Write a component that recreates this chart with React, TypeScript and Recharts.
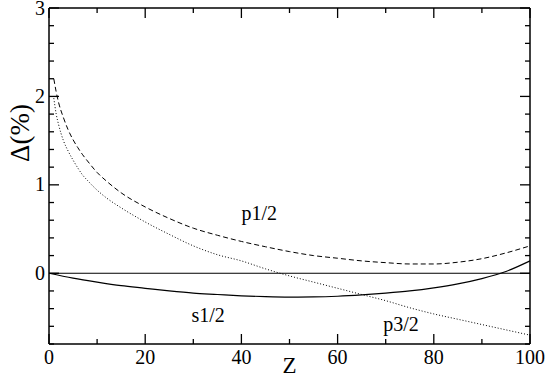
import { LineChart, Line, XAxis, YAxis, ReferenceLine, ReferenceDot } from 'recharts';

// Z values and relative differences (%)
const Z_S = [0, 5, 10, 15, 20, 25, 30, 35, 40, 45, 50, 55, 60, 65, 70, 75, 80, 85, 90, 95, 100];
const S12 = [0, -0.055, -0.1, -0.14, -0.17, -0.2, -0.225, -0.24, -0.255, -0.265, -0.27, -0.268, -0.26, -0.245, -0.225, -0.2, -0.165, -0.12, -0.06, 0.02, 0.14];

const Z_P = [1, 1.5, 2, 3, 4, 5, 6, 7, 8, 10, 12, 15, 20, 25, 30, 35, 40, 45, 50, 55, 60, 65, 70, 75, 80, 85, 90, 95, 100];
const P12 = [2.2, 2.05, 1.93, 1.76, 1.62, 1.51, 1.42, 1.34, 1.27, 1.14, 1.04, 0.91, 0.75, 0.62, 0.51, 0.43, 0.36, 0.3, 0.245, 0.2, 0.17, 0.14, 0.12, 0.105, 0.105, 0.125, 0.165, 0.23, 0.31];
const P32 = [1.98, 1.8, 1.68, 1.5, 1.38, 1.28, 1.19, 1.11, 1.05, 0.94, 0.85, 0.74, 0.58, 0.44, 0.31, 0.21, 0.14, 0.05, -0.03, -0.1, -0.17, -0.24, -0.31, -0.39, -0.46, -0.52, -0.58, -0.64, -0.7];

const X_TICKS = [0, 10, 20, 30, 40, 50, 60, 70, 80, 90, 100];
const Y_TICKS = [-0.8, -0.6, -0.4, -0.2, 0, 0.2, 0.4, 0.6, 0.8, 1, 1.2, 1.4, 1.6, 1.8, 2, 2.2, 2.4, 2.6, 2.8, 3];

const LABELS = [
  { text: 'p1/2', z: 43.7, v: 0.68 },
  { text: 's1/2', z: 33.1, v: -0.48 },
  { text: 'p3/2', z: 73.2, v: -0.585 },
];

const W = 547;
const H = 383;
const MARGIN = { top: 8, right: 17, bottom: 0, left: 0 };
const Y_AXIS_W = 49;
const X_AXIS_H = 39;
const PLOT_TOP = MARGIN.top;
const PLOT_RIGHT = W - MARGIN.right;
const FONT = 'Liberation Serif, DejaVu Serif, serif';
const TXT = { fontFamily: FONT };

const sData = Z_S.map((z, i) => ({ z, v: S12[i] }));
const p12Data = Z_P.map((z, i) => ({ z, v: P12[i] }));
const p32Data = Z_P.map((z, i) => ({ z, v: P32[i] }));

function XTick(props: any) {
  const { x, y, payload } = props;
  const v = payload.value;
  const major = v % 20 === 0;
  const len = major ? 10 : 5;
  return (
    <g>
      <line x1={x} y1={y} x2={x} y2={y - len} stroke="#000" strokeWidth={1.3} />
      <line x1={x} y1={PLOT_TOP} x2={x} y2={PLOT_TOP + len} stroke="#000" strokeWidth={1.3} />
      {major && (
        <text x={x} y={y + 20} textAnchor="middle" fontSize={20} style={TXT} fill="#000">
          {v}
        </text>
      )}
    </g>
  );
}

function YTick(props: any) {
  const { x, y, payload } = props;
  const v = payload.value;
  const major = Number.isInteger(v);
  const len = major ? 10 : 5;
  return (
    <g>
      <line x1={x} y1={y} x2={x + len} y2={y} stroke="#000" strokeWidth={1.3} />
      <line x1={PLOT_RIGHT} y1={y} x2={PLOT_RIGHT - len} y2={y} stroke="#000" strokeWidth={1.3} />
      {major && (
        <text x={x - 4} y={y + 6.5} textAnchor="end" fontSize={20} style={TXT} fill="#000">
          {v}
        </text>
      )}
    </g>
  );
}

function YLabel(props: any) {
  const { viewBox } = props;
  const cx = viewBox.x + 20;
  const cy = viewBox.y + viewBox.height / 2 - 43;
  return (
    <text
      x={cx}
      y={cy}
      transform={`rotate(-90 ${cx} ${cy})`}
      textAnchor="middle"
      dominantBaseline="central"
      fontSize={27}
      style={TXT}
      fill="#000"
    >
      Δ(%)
    </text>
  );
}

function XLabel(props: any) {
  const { viewBox } = props;
  return (
    <text x={viewBox.x + viewBox.width / 2} y={viewBox.y + 29} textAnchor="middle" fontSize={23} style={TXT} fill="#000">
      Z
    </text>
  );
}

function NoteLabel(props: any) {
  const { viewBox, value } = props;
  return (
    <text x={viewBox.x} y={viewBox.y + 6.5} textAnchor="middle" fontSize={20} style={TXT} fill="#000">
      {value}
    </text>
  );
}

export default function App() {
  return (
    <div style={{ position: 'absolute', left: 0, top: 0, width: W, height: H, background: '#fff', fontFamily: FONT }}>
      <LineChart width={W} height={H} margin={MARGIN}>
        <XAxis
          dataKey="z"
          type="number"
          domain={[0, 100]}
          ticks={X_TICKS}
          interval={0}
          height={X_AXIS_H}
          tickSize={0}
          tickMargin={0}
          tickLine={false}
          tick={<XTick />}
          axisLine={{ stroke: '#000', strokeWidth: 1.5 }}
          label={<XLabel />}
        />
        <YAxis
          type="number"
          domain={[-0.8, 3]}
          ticks={Y_TICKS}
          interval={0}
          width={Y_AXIS_W}
          tickSize={0}
          tickMargin={0}
          tickLine={false}
          tick={<YTick />}
          axisLine={{ stroke: '#000', strokeWidth: 1.5 }}
          label={<YLabel />}
        />
        <ReferenceLine y={3} stroke="#000" strokeWidth={1.5} />
        <ReferenceLine x={100} stroke="#000" strokeWidth={1.5} />
        <ReferenceLine y={0} stroke="#000" strokeWidth={1} />
        <Line data={sData} dataKey="v" type="monotone" stroke="#000" strokeWidth={1.2} dot={false} isAnimationActive={false} />
        <Line data={p12Data} dataKey="v" type="monotone" stroke="#000" strokeWidth={1} strokeDasharray="5 3" dot={false} isAnimationActive={false} />
        <Line data={p32Data} dataKey="v" type="monotone" stroke="#000" strokeWidth={1} strokeDasharray="1 2" dot={false} isAnimationActive={false} />
        {LABELS.map((l) => (
          <ReferenceDot
            key={l.text}
            x={l.z}
            y={l.v}
            r={0}
            stroke="none"
            fill="none"
            label={<NoteLabel value={l.text} />}
          />
        ))}
      </LineChart>
    </div>
  );
}
